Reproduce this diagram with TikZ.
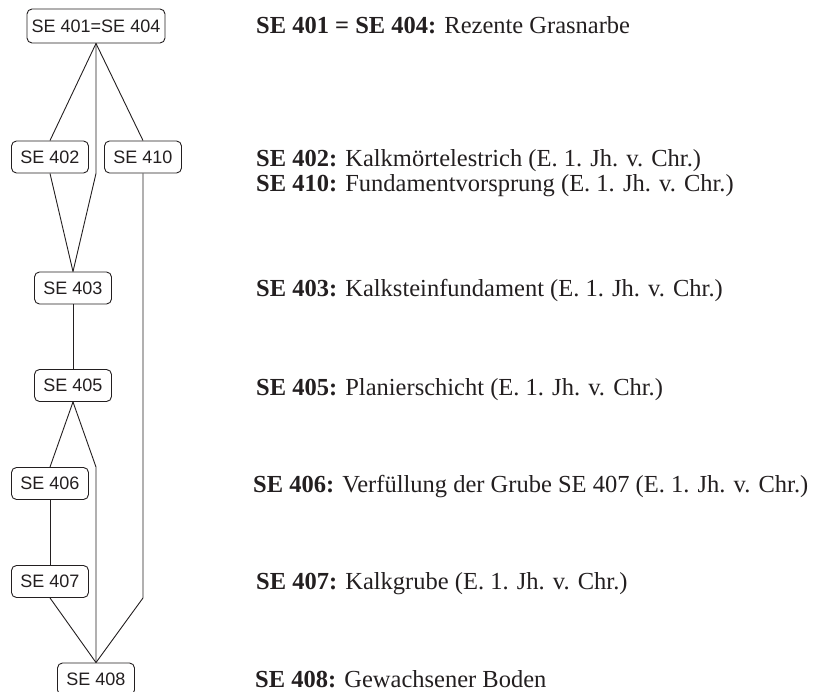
\documentclass[tikz,border=0pt]{standalone}
\usepackage{fontspec}
\setmainfont{Liberation Serif}
\newfontfamily\boxfont{Liberation Sans}
\definecolor{ink}{RGB}{35,31,32}
\begin{document}
\begin{tikzpicture}[x=1pt,y=-1pt,
  unit/.style={draw=ink,line width=0.9pt,rounded corners=5pt,
    minimum width=77pt,minimum height=32pt,inner sep=0pt,text=ink,
    font=\boxfont\fontsize{18}{21}\selectfont},
  link/.style={draw=ink,line width=0.9pt},
  desc/.style={anchor=base west,inner sep=0pt,text=ink,
    font=\fontsize{24.5}{29}\selectfont}]
\useasboundingbox (0,0) rectangle (821,692);
\begin{scope}
\clip (0,0) rectangle (821,692);
% Harris matrix boxes
\node[unit,minimum width=138pt,minimum height=34pt] (n401) at (96,26) {SE 401=SE 404};
\node[unit] (n402) at (50,157) {SE 402};
\node[unit] (n410) at (143,157) {SE 410};
\node[unit] (n403) at (73,288) {SE 403};
\node[unit] (n405) at (73,385.5) {SE 405};
\node[unit] (n406) at (50,483.5) {SE 406};
\node[unit] (n407) at (50,581.5) {SE 407};
\node[unit] (n408) at (96,679) {SE 408};
% stratigraphic relations
\draw[link] (n401.south) -- (n402.north);
\draw[link] (n401.south) -- (n410.north);
\draw[link] (n401.south) -- (n401.south |- n402.south) -- (n403.north);
\draw[link] (n402.south) -- (n403.north);
\draw[link] (n410.south) -- (n410.south |- n407.south) -- (n408.north);
\draw[link] (n403.south) -- (n405.north);
\draw[link] (n405.south) -- (n406.north);
\draw[link] (n405.south) -- (n408.north |- n406.north) -- (n408.north);
\draw[link] (n406.south) -- (n407.north);
\draw[link] (n407.south) -- (n408.north);
\end{scope}
% descriptions
\node[desc] (d401) at (256,34) {\textbf{SE 401 = SE 404:} Rezente Grasnarbe};
\node[desc] (d402) at (256,167) {\textbf{SE 402:} Kalkmörtelestrich (E. 1. Jh. v. Chr.)};
\node[desc] (d410) at (256,192) {\textbf{SE 410:} Fundamentvorsprung (E. 1. Jh. v. Chr.)};
\node[desc] (d403) at (256,297) {\textbf{SE 403:} Kalksteinfundament (E. 1. Jh. v. Chr.)};
\node[desc] (d405) at (256,395) {\textbf{SE 405:} Planierschicht (E. 1. Jh. v. Chr.)};
\node[desc] (d406) at (253,492) {\textbf{SE 406:} Verfüllung der Grube SE 407 (E. 1. Jh. v. Chr.)};
\node[desc] (d407) at (256,589) {\textbf{SE 407:} Kalkgrube (E. 1. Jh. v. Chr.)};
\node[desc] (d408) at (255,687) {\textbf{SE 408:} Gewachsener Boden};
\end{tikzpicture}
\end{document}
